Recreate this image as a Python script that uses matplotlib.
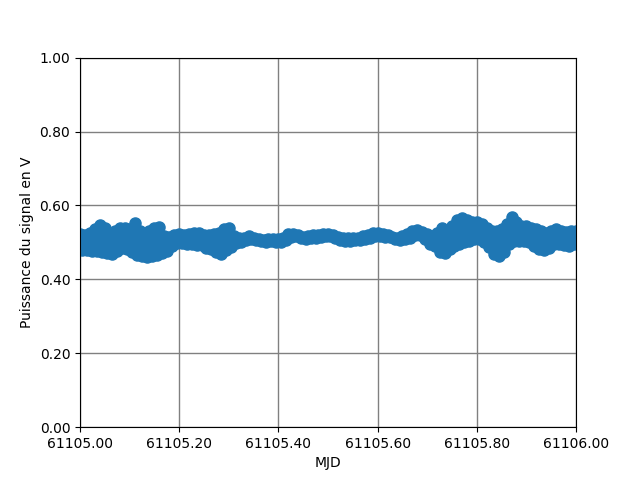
import numpy as np
import matplotlib
matplotlib.use("Agg")
import matplotlib.pyplot as plt
from matplotlib.ticker import FormatStrFormatter

# signal power (V), one sample every 0.005 MJD starting at 61105.00
signal = [
    0.523, 0.480, 0.520, 0.480, 0.525, 0.478, 0.535, 0.476, 0.548, 0.474,
    0.540, 0.470, 0.525, 0.468, 0.530, 0.478, 0.538, 0.485, 0.540, 0.483,
    0.535, 0.475, 0.553, 0.466, 0.530, 0.462, 0.520, 0.460, 0.530, 0.462,
    0.540, 0.465, 0.542, 0.470, 0.518, 0.476, 0.515, 0.490, 0.520, 0.498,
    0.522, 0.499, 0.520, 0.497, 0.522, 0.495, 0.525, 0.494, 0.525, 0.492,
    0.520, 0.485, 0.520, 0.482, 0.522, 0.475, 0.525, 0.468, 0.535, 0.480,
    0.540, 0.488, 0.517, 0.499, 0.511, 0.502, 0.513, 0.506, 0.517, 0.509,
    0.512, 0.506, 0.508, 0.503, 0.506, 0.500, 0.509, 0.504, 0.509, 0.502,
    0.508, 0.500, 0.512, 0.506, 0.522, 0.514, 0.524, 0.517, 0.519, 0.512,
    0.514, 0.509, 0.516, 0.511, 0.519, 0.513, 0.521, 0.515, 0.523, 0.517,
    0.523, 0.517, 0.521, 0.512, 0.515, 0.507, 0.512, 0.505, 0.512, 0.505,
    0.512, 0.506, 0.513, 0.507, 0.516, 0.510, 0.520, 0.513, 0.525, 0.518,
    0.526, 0.518, 0.524, 0.515, 0.521, 0.514, 0.515, 0.508, 0.513, 0.506,
    0.517, 0.508, 0.523, 0.513, 0.530, 0.520, 0.533, 0.520, 0.527, 0.510,
    0.522, 0.495, 0.518, 0.490, 0.525, 0.475, 0.540, 0.470, 0.530, 0.482,
    0.545, 0.490, 0.560, 0.495, 0.565, 0.500, 0.560, 0.505, 0.555, 0.508,
    0.555, 0.508, 0.550, 0.500, 0.540, 0.488, 0.530, 0.468, 0.530, 0.462,
    0.535, 0.475, 0.550, 0.495, 0.568, 0.505, 0.555, 0.505, 0.545, 0.505,
    0.545, 0.500, 0.540, 0.490, 0.535, 0.482, 0.530, 0.480, 0.525, 0.485,
    0.530, 0.495, 0.535, 0.495, 0.530, 0.492, 0.528, 0.490, 0.532, 0.495,
    0.530,
]
mjd = 61105.0 + 0.005 * np.arange(len(signal))

xticks = [61105.0, 61105.2, 61105.4, 61105.6, 61105.8, 61106.0]
yticks = [0.0, 0.2, 0.4, 0.6, 0.8, 1.0]

fig, ax = plt.subplots(figsize=(6.4, 4.8), dpi=100)

ax.plot(mjd, signal, "o-", color="#1f77b4", markersize=8, linewidth=4)

ax.set_xlim(61105.0, 61106.0)
ax.set_ylim(0, 1)
ax.set_xticks(xticks)
ax.set_yticks(yticks)
ax.xaxis.set_major_formatter(FormatStrFormatter("%.2f"))
ax.yaxis.set_major_formatter(FormatStrFormatter("%.2f"))
ax.grid(True, color="gray", linewidth=1)

ax.set_xlabel("MJD")
ax.set_ylabel("Puissance du signal en V")

plt.savefig("out.png", dpi=100)
